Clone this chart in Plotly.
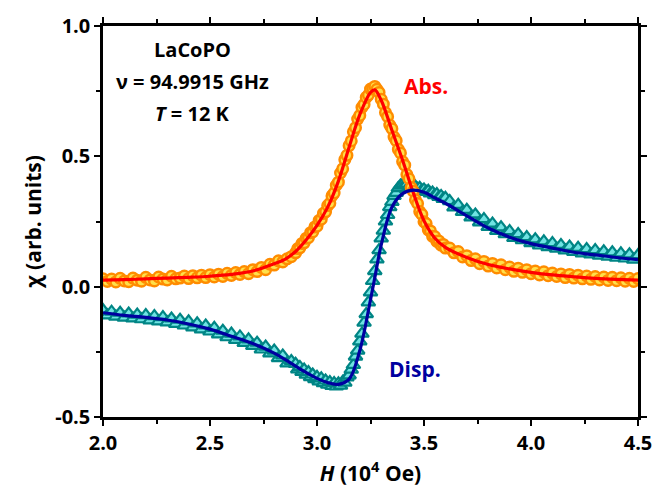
import plotly.graph_objects as go

# ---------------- data ----------------
x_data = [2.00, 2.02, 2.04, 2.06, 2.08, 2.10, 2.12, 2.14, 2.16, 2.18,
          2.20, 2.22, 2.24, 2.26, 2.28, 2.30, 2.32, 2.34, 2.36, 2.38,
          2.40, 2.42, 2.44, 2.46, 2.48, 2.50, 2.52, 2.54, 2.56, 2.58,
          2.60, 2.62, 2.64, 2.66, 2.68, 2.70, 2.72, 2.74, 2.76, 2.78,
          2.80, 2.82, 2.84, 2.86, 2.88,
          2.90, 2.91, 2.92, 2.93, 2.94, 2.95, 2.96, 2.97, 2.98, 2.99,
          3.00, 3.01, 3.02, 3.03, 3.04, 3.05, 3.06, 3.07, 3.08, 3.09,
          3.10, 3.11, 3.12, 3.13, 3.14, 3.15, 3.16, 3.17, 3.18, 3.19,
          3.20, 3.21, 3.22, 3.23, 3.24, 3.25, 3.26, 3.27, 3.28, 3.29,
          3.30, 3.31, 3.32, 3.33, 3.34, 3.35, 3.36, 3.37, 3.38, 3.39,
          3.40, 3.41, 3.42, 3.43, 3.44, 3.45, 3.46, 3.47, 3.48, 3.49,
          3.50, 3.51, 3.52, 3.53, 3.54, 3.55, 3.56, 3.57, 3.58, 3.59, 3.60,
          3.62, 3.64, 3.66, 3.68, 3.70, 3.72, 3.74, 3.76, 3.78, 3.80,
          3.82, 3.84, 3.86, 3.88, 3.90, 3.92, 3.94, 3.96, 3.98, 4.00,
          4.02, 4.04, 4.06, 4.08, 4.10, 4.12, 4.14, 4.16, 4.18, 4.20,
          4.22, 4.24, 4.26, 4.28, 4.30, 4.32, 4.34, 4.36, 4.38, 4.40,
          4.42, 4.44, 4.46, 4.48, 4.50]

abs_data = [0.030, 0.020, 0.029, 0.018, 0.032, 0.022, 0.019, 0.033, 0.025, 0.021,
            0.036, 0.026, 0.022, 0.037, 0.029, 0.026, 0.040, 0.030, 0.033, 0.041,
            0.031, 0.042, 0.034, 0.044, 0.035, 0.046, 0.037, 0.048, 0.039, 0.051,
            0.043, 0.054, 0.047, 0.058, 0.050, 0.065, 0.058, 0.074, 0.065, 0.086,
            0.083, 0.099, 0.095, 0.107, 0.115,
            0.130, 0.146, 0.149, 0.166, 0.168, 0.186, 0.188, 0.207, 0.210, 0.229,
            0.232, 0.254, 0.259, 0.281, 0.287, 0.311, 0.320, 0.348, 0.359, 0.389,
            0.401, 0.436, 0.452, 0.487, 0.504, 0.541, 0.559, 0.594, 0.610, 0.643,
            0.657, 0.688, 0.699, 0.726, 0.735, 0.758, 0.760, 0.768, 0.757, 0.745,
            0.719, 0.700, 0.668, 0.652, 0.620, 0.606, 0.574, 0.560, 0.527, 0.513,
            0.480, 0.466, 0.430, 0.414, 0.380, 0.366, 0.333, 0.319, 0.288, 0.277,
            0.249, 0.242, 0.218, 0.214, 0.193, 0.192, 0.174, 0.175, 0.159, 0.162, 0.148,
            0.148, 0.130, 0.135, 0.114, 0.119, 0.100, 0.107, 0.088, 0.097, 0.079,
            0.089, 0.072, 0.084, 0.065, 0.075, 0.059, 0.071, 0.055, 0.065, 0.050,
            0.060, 0.045, 0.057, 0.042, 0.052, 0.039, 0.049, 0.035, 0.047, 0.033,
            0.044, 0.030, 0.041, 0.028, 0.039, 0.026, 0.037, 0.024, 0.036, 0.023,
            0.034, 0.021, 0.032, 0.020, 0.031]

disp_data = [-0.090, -0.110, -0.096, -0.115, -0.100, -0.119, -0.103, -0.122, -0.107, -0.125,
             -0.109, -0.129, -0.113, -0.133, -0.117, -0.137, -0.122, -0.143, -0.127, -0.149,
             -0.133, -0.156, -0.141, -0.164, -0.149, -0.172, -0.158, -0.183, -0.169, -0.194,
             -0.180, -0.204, -0.191, -0.216, -0.202, -0.227, -0.215, -0.241, -0.230, -0.256,
             -0.245, -0.274, -0.264, -0.294, -0.285,
             -0.296, -0.317, -0.308, -0.327, -0.318, -0.338, -0.328, -0.347, -0.337, -0.355,
             -0.346, -0.363, -0.352, -0.370, -0.360, -0.376, -0.366, -0.381, -0.370, -0.383,
             -0.371, -0.380, -0.365, -0.368, -0.348, -0.340, -0.318, -0.300, -0.268, -0.245,
             -0.210, -0.180, -0.138, -0.105, -0.060, -0.022, 0.022, 0.060, 0.105, 0.140,
             0.185, 0.215, 0.250, 0.275, 0.305, 0.325, 0.348, 0.360, 0.378, 0.388,
             0.392, 0.390, 0.394, 0.385, 0.389, 0.380, 0.384, 0.375, 0.379, 0.370,
             0.373, 0.364, 0.368, 0.358, 0.361, 0.351, 0.355, 0.344, 0.348, 0.337, 0.341,
             0.328, 0.304, 0.314, 0.287, 0.295, 0.266, 0.277, 0.247, 0.259, 0.229,
             0.242, 0.214, 0.228, 0.201, 0.213, 0.187, 0.202, 0.178, 0.190, 0.167,
             0.182, 0.158, 0.174, 0.152, 0.167, 0.146, 0.160, 0.139, 0.154, 0.133,
             0.149, 0.128, 0.144, 0.124, 0.140, 0.119, 0.136, 0.115, 0.132, 0.111,
             0.128, 0.108, 0.124, 0.104, 0.121]

x_fit = [2.00, 2.10, 2.20, 2.30, 2.40, 2.50, 2.60, 2.70, 2.80, 2.85, 2.90, 2.95,
         3.00, 3.05, 3.10, 3.15, 3.20, 3.25, 3.27, 3.30, 3.35, 3.40, 3.45, 3.50,
         3.55, 3.60, 3.70, 3.80, 3.90, 4.00, 4.10, 4.20, 4.30, 4.40, 4.50]
abs_fit = [0.025, 0.027, 0.030, 0.033, 0.036, 0.040, 0.047, 0.060, 0.088, 0.105, 0.135, 0.180,
           0.235, 0.305, 0.405, 0.535, 0.660, 0.745, 0.755, 0.715, 0.600, 0.485, 0.360, 0.253,
           0.187, 0.151, 0.112, 0.085, 0.068, 0.055, 0.045, 0.038, 0.032, 0.028, 0.025]
disp_fit = [-0.100, -0.110, -0.118, -0.128, -0.143, -0.163, -0.190, -0.218, -0.255, -0.279, -0.305, -0.330,
            -0.352, -0.368, -0.375, -0.355, -0.245, -0.050, 0.034, 0.160, 0.305, 0.357, 0.370, 0.362,
            0.341, 0.320, 0.272, 0.225, 0.190, 0.165, 0.148, 0.132, 0.122, 0.112, 0.104]

x_ticks = [2.0, 2.5, 3.0, 3.5, 4.0, 4.5]
x_ticktext = ["2.0", "2.5", "3.0", "3.5", "4.0", "4.5"]
y_ticks = [-0.5, 0.0, 0.5, 1.0]
y_ticktext = ["-0.5", "0.0", "0.5", "1.0"]

FONT = "Open Sans"

fig = go.Figure()
fig.add_trace(go.Scatter(
    x=x_data, y=disp_data, mode="markers", name="Disp. data",
    marker=dict(symbol="triangle-up", size=12, color="#6FE3E3",
                line=dict(color="#008585", width=2.2))))
fig.add_trace(go.Scatter(
    x=x_data, y=abs_data, mode="markers", name="Abs. data",
    marker=dict(symbol="circle", size=10.5, color="#FFE04A",
                line=dict(color="#FF8C00", width=2.5))))
fig.add_trace(go.Scatter(
    x=x_fit, y=abs_fit, mode="lines", line=dict(color="#FF0000", width=3.2, shape="spline"),
    name="Abs. fit"))
fig.add_trace(go.Scatter(
    x=x_fit, y=disp_fit, mode="lines", line=dict(color="#0000A0", width=3.2, shape="spline"),
    name="Disp. fit"))

axis_common = dict(
    showline=True, linecolor="black", linewidth=2.5, mirror="allticks",
    ticks="outside", ticklen=6, tickwidth=2, tickcolor="black",
    showgrid=False, zeroline=False,
    tickfont=dict(family=FONT, size=20, color="black", weight="bold"),
)

fig.update_xaxes(range=[2.0, 4.5], tickvals=x_ticks, ticktext=x_ticktext,
                 minor=dict(ticks="outside", ticklen=4, tickwidth=2, dtick=0.25, tick0=2.0,
                            tickcolor="black", showgrid=False),
                 title=dict(text="<i>H</i> (10<sup>4</sup> Oe)", standoff=5,
                            font=dict(family=FONT, size=21, color="black", weight="bold")),
                 **axis_common)
fig.update_yaxes(range=[-0.5, 1.0], tickvals=y_ticks, ticktext=y_ticktext,
                 minor=dict(ticks="outside", ticklen=4, tickwidth=2, dtick=0.25, tick0=0.0,
                            tickcolor="black", showgrid=False),
                 title=dict(text="χ (arb. units)", standoff=8,
                            font=dict(family=FONT, size=21, color="black", weight="bold")),
                 **axis_common)

ann_font = dict(family=FONT, size=20, color="black", weight="bold")
fig.add_annotation(x=2.42, y=0.91, text="LaCoPO", showarrow=False, font=ann_font)
fig.add_annotation(x=2.42, y=0.786, text="ν = 94.9915 GHz", showarrow=False, font=ann_font)
fig.add_annotation(x=2.42, y=0.663, text="<i>T</i> = 12 K", showarrow=False, font=ann_font)
fig.add_annotation(x=3.51, y=0.771, text="Abs.", showarrow=False,
                   font=dict(family=FONT, size=21, color="#FF0000", weight="bold"))
fig.add_annotation(x=3.458, y=-0.316, text="Disp.", showarrow=False,
                   font=dict(family=FONT, size=21, color="#0000A0", weight="bold"))

fig.update_layout(
    width=667, height=491, autosize=False,
    margin=dict(l=103, r=29, t=16, b=74),
    plot_bgcolor="white", paper_bgcolor="white",
    showlegend=False,
)

fig.write_html("out.html")
